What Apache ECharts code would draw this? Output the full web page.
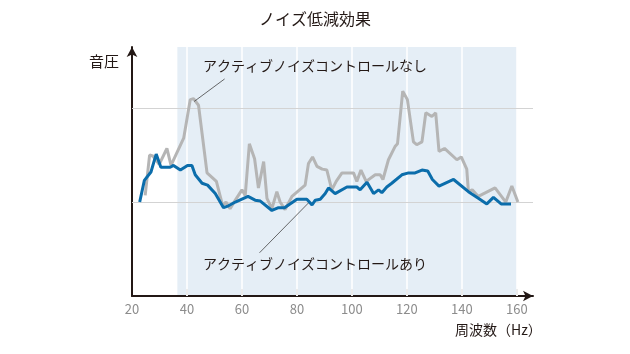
<!DOCTYPE html>
<html>
<head>
<meta charset="utf-8">
<script src="https://cdn.jsdelivr.net/npm/echarts@6/dist/echarts.min.js"></script>
<style>
	html, body { margin: 0; padding: 0; background: #fff; }
	#chart { width: 630px; height: 354px; }
</style>
</head>
<body>
<div id="chart"></div>
<script>
// ANCなし（グレー）
var freqOff  = [24.8, 26.4, 27.6, 29.9, 32.7, 34.2, 38.8, 41.2, 42.4, 44.2, 47.3, 50.7, 53.0, 54.2, 55.7, 57.6,
	60.0, 61.2, 62.7, 64.6, 66.0, 67.9, 69.1, 70.9, 72.7, 73.9, 75.7, 78.2, 83.0, 84.2, 85.7, 87.3, 89.2,
	90.9, 92.7, 94.3, 96.4, 100.6, 101.8, 103.3, 105.2, 108.5, 110.3, 111.3, 113.3, 115.7, 116.6, 118.5,
	120.2, 122.4, 123.6, 125.5, 126.9, 129.1, 130.5, 131.7, 133.7, 138.2, 139.8, 141.8, 142.4, 143.8,
	146.0, 152.1, 156.0, 158.2, 160.4]
var levelOff = [1.07, 1.50, 1.49, 1.40, 1.57, 1.39, 1.68, 2.09, 2.10, 2.03, 1.31, 1.22, 0.96, 1.00, 0.93, 1.02,
	1.13, 1.07, 1.62, 1.46, 1.15, 1.43, 1.04, 0.93, 1.11, 1.00, 0.92, 1.06, 1.18, 1.41, 1.48, 1.38, 1.35,
	1.34, 1.13, 1.22, 1.31, 1.31, 1.22, 1.34, 1.22, 1.29, 1.29, 1.24, 1.45, 1.59, 1.62, 2.18,
	2.09, 1.64, 1.61, 1.64, 1.95, 1.91, 1.95, 1.54, 1.57, 1.45, 1.48, 1.35, 1.11, 1.13,
	1.06, 1.15, 1.00, 1.17, 1.00]

// ANCあり（青）
var freqOn  = [22.8, 24.5, 26.9, 28.8, 30.5, 33.9, 35.1, 37.6, 40.2, 41.8, 43.0, 45.5, 47.5, 50.3, 53.3, 55.1,
	57.6, 62.2, 64.8, 66.7, 70.9, 73.3, 75.5, 80.0, 83.6, 85.5, 86.7, 88.5, 90.3, 91.5, 93.9, 98.2,
	101.8, 103.0, 105.5, 107.9, 109.7, 110.9, 112.7, 114.5, 118.2, 120.6, 123.0, 125.5, 127.6, 129.3,
	131.7, 137.0, 142.4, 146.0, 149.1, 151.5, 154.3, 157.9]
var levelOn = [1.00, 1.23, 1.32, 1.51, 1.37, 1.37, 1.39, 1.34, 1.39, 1.39, 1.29, 1.20, 1.18, 1.09, 0.94, 0.96,
	1.00, 1.06, 1.02, 1.01, 0.91, 0.94, 0.94, 1.03, 1.03, 0.97, 1.02, 1.03, 1.09, 1.15, 1.09, 1.16,
	1.16, 1.13, 1.21, 1.09, 1.13, 1.10, 1.16, 1.20, 1.29, 1.31, 1.31, 1.34, 1.33, 1.24,
	1.17, 1.24, 1.11, 1.04, 0.98, 1.05, 0.98, 0.98]

var xTicks = [20, 40, 60, 80, 100, 120, 140, 160]
var xInnerTicks = [40, 60, 80, 100, 120, 140, 160]
var yGrid = [1, 2]
var shadeRange = [36.5, 160]	// 網掛け範囲
var leaderOff = [[42.6, 2.07], [53.7, 2.31]]	// 引き出し線（なし）
var leaderOn  = [[84.2, 0.99], [66.4, 0.46]]	// 引き出し線（あり）

var font = '"Noto Sans CJK JP", "Noto Sans", sans-serif'
var ink = '#231815'
var xMin = 20, xMax = 165.9, yMax = 2.65

function zip(xs, ys) {
	return xs.map(function(x, i) { return [x, ys[i]] })
}

var chart = echarts.init(document.getElementById('chart'), null, { renderer: 'canvas' })

var option = {}
option.animation = false
option.textStyle = { fontFamily: font }

option.grid = { left: 132, right: 97, top: 47, bottom: 58 }

option.xAxis = {
	type: 'value',
	min: xMin,
	max: xMax,
	interval: 20,
	axisLine: {
		lineStyle: { color: ink, width: 2 },
		symbol: ['none', 'arrow'],
		symbolSize: [8, 10]
	},
	axisTick: {
		show: true,
		inside: true,
		length: 7,
		customValues: xInnerTicks,
		lineStyle: { color: '#b3b3b3', width: 2 }
	},
	axisLabel: {
		customValues: xTicks,
		color: '#8c8c8c',
		fontSize: 13,
		margin: 7,
		fontFamily: font
	},
	splitLine: { show: false }
}

option.yAxis = {
	type: 'value',
	min: 0,
	max: yMax,
	interval: 1,
	axisLine: {
		show: true,
		lineStyle: { color: ink, width: 2 },
		symbol: ['none', 'arrow'],
		symbolSize: [8, 10]
	},
	axisTick: { show: false },
	axisLabel: { show: false },
	splitLine: { show: false }
}

// 網掛けと目盛り線（網掛けの上に描く）
var gridLines = xInnerTicks.map(function(v) {
	return [{ coord: [v, 0], lineStyle: { color: '#fff', width: 1.5 } }, { coord: [v, yMax] }]
}).concat(yGrid.map(function(v) {
	return [{ coord: [xMin, v], lineStyle: { color: '#d3d3d3', width: 1 } }, { coord: [xMax, v] }]
}))

option.series = [{
	type: 'line',
	silent: true,
	data: [],
	markArea: {
		silent: true,
		z: 0,
		itemStyle: { color: '#e5eef6' },
		data: [[{ xAxis: shadeRange[0], yAxis: 0 }, { xAxis: shadeRange[1], yAxis: yMax }]]
	},
	markLine: {
		silent: true,
		z: 1,
		symbol: ['none', 'none'],
		label: { show: false },
		lineStyle: { type: 'solid' },
		data: gridLines
	}
}, {
	name: 'なし',
	type: 'line',
	z: 3,
	data: zip(freqOff, levelOff),
	symbol: 'none',
	lineStyle: { color: '#b5b5b5', width: 3 },
	markLine: {
		silent: true,
		z: 5,
		symbol: ['none', 'none'],
		label: { show: false },
		lineStyle: { color: '#444', width: 0.8, type: 'solid' },
		data: [[{ coord: leaderOff[0] }, { coord: leaderOff[1] }]]
	}
}, {
	name: 'あり',
	type: 'line',
	z: 4,
	data: zip(freqOn, levelOn),
	symbol: 'none',
	lineStyle: { color: '#0b6dab', width: 3 },
	markLine: {
		silent: true,
		z: 5,
		symbol: ['none', 'none'],
		label: { show: false },
		lineStyle: { color: '#444', width: 0.8, type: 'solid' },
		data: [[{ coord: leaderOn[0] }, { coord: leaderOn[1] }]]
	}
}]

option.graphic = [{
	type: 'text', left: 'center', top: 11, z: 20,
	style: { text: 'ノイズ低減効果', font: '16px ' + font, fill: ink }
}, {
	type: 'text', left: 89, top: 54, z: 20,
	style: { text: '音圧', font: '15px ' + font, fill: ink }
}, {
	type: 'text', left: 455, top: 323, z: 20,
	style: { text: '周波数（Hz）', font: '14px ' + font, fill: ink }
}, {
	type: 'text', left: 203, top: 59, z: 20,
	style: { text: 'アクティブノイズコントロールなし', font: '14px ' + font, fill: ink }
}, {
	type: 'text', left: 203, top: 257, z: 20,
	style: { text: 'アクティブノイズコントロールあり', font: '14px ' + font, fill: ink }
}]

chart.setOption(option)
</script>
</body>
</html>
